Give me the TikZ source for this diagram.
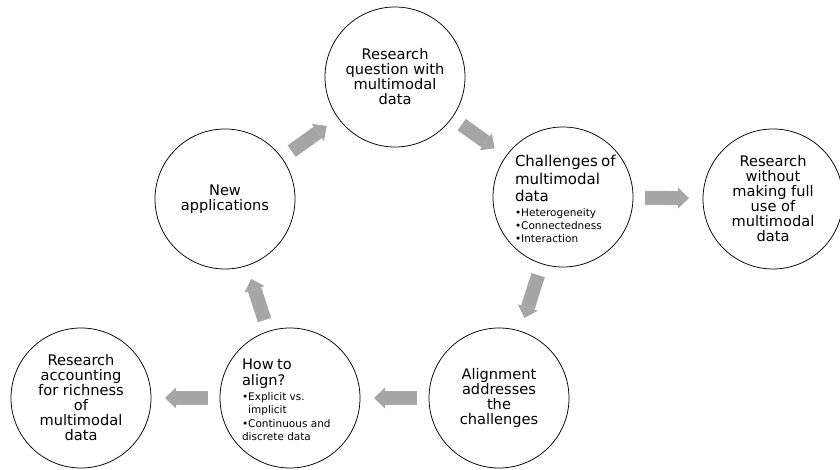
\documentclass[tikz,border=0pt]{standalone}
\usepackage{fontspec}
\setmainfont{DejaVu Sans}
\usepackage{xcolor}
\usetikzlibrary{arrows.meta}
\definecolor{arrowgray}{RGB}{166,166,166}

\begin{document}
\begin{tikzpicture}[x=1pt, y=1pt,
	stage/.style={circle, draw, line width=0.75pt, minimum size=140pt, inner sep=0pt, outer sep=0pt, align=center, font=\fontsize{14.6}{15}\selectfont},
	bigarrow/.style={color=arrowgray, line width=14pt, shorten <=12pt, shorten >=14pt, -{Triangle[width=21pt, length=11pt, line width=0pt]}}]
	\useasboundingbox (0,0) rectangle (840,470);

	\node[stage](question) at (395,393){Research\\question with\\multimodal\\data};
	\node[stage](challenges) at (563,273){};
	\node[stage](without) at (773,271){Research\\without\\making full\\use of\\multimodal\\data};
	\node[stage](alignment) at (499,72){Alignment\\addresses\\the\\challenges};
	\node[stage](howto) at (290,72){};
	\node[stage](richness) at (81,72){Research\\accounting\\for richness\\of\\multimodal\\data};
	\node[stage](newapps) at (225,271){New\\applications};

	% text of the two circles with bullets
	\node[text width=110pt, align=left, inner sep=0pt](challengestext) at ([xshift=7pt,yshift=-2pt]challenges.center){%
		{\fontsize{15}{17.5}\selectfont Challenges of\\multimodal\\data\par}
		{\fontsize{10.5}{13}\selectfont\vspace{1.5pt}•Heterogeneity\\•Connectedness\\•Interaction\par}};
	\node[text width=92pt, align=left, inner sep=0pt](howtotext) at ([xshift=-2pt,yshift=-2pt]howto.center){%
		{\fontsize{14.6}{16}\selectfont How to\\align?\par}
		{\fontsize{10.5}{13}\selectfont\vspace{2pt}•Explicit vs.\\\phantom{•}implicit\par\vspace{1pt}•Continuous and\\discrete data\par}};

	\draw[bigarrow] (newapps) edge (question)
	(question) edge (challenges)
	(challenges) edge (without)
	(challenges) edge (alignment)
	(alignment) edge (howto)
	(howto) edge (richness)
	(howto) edge (newapps);
\end{tikzpicture}
\end{document}
